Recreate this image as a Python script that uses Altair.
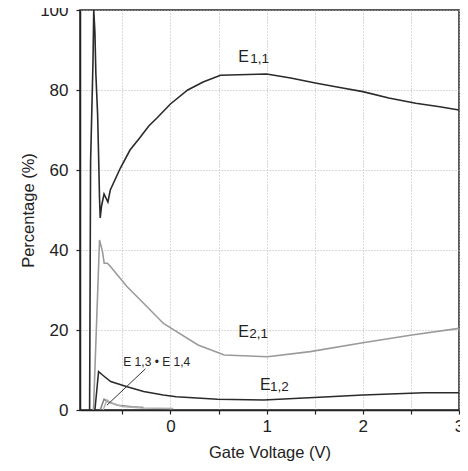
import altair as alt
import pandas as pd

# ---- data ----
e11_x = [-0.84, -0.83, -0.805, -0.797, -0.785, -0.775, -0.757, -0.747, -0.737, -0.73,
         -0.716, -0.69, -0.65, -0.625, -0.52, -0.42, -0.32, -0.225, -0.14, 0.0,
         0.18, 0.34, 0.52, 1.0, 1.25, 1.52, 1.79, 2.0, 2.27, 2.55, 2.8, 3.0]
e11_y = [0, 62, 87, 100, 94.5, 84, 74, 64, 53, 48,
         51, 54, 52, 55, 60.5, 65, 68, 71, 73, 76.5,
         80, 82, 83.7, 84, 83, 81.7, 80.5, 79.6, 78, 76.7, 75.8, 75]

e21_x = [-0.80, -0.737, -0.706, -0.689, -0.655, -0.621, -0.45, -0.279, -0.075, 0.01,
         0.287, 0.56, 1.01, 1.453, 2.0, 2.51, 3.0]
e21_y = [0, 42.5, 39.6, 36.7, 36.7, 35.8, 30.8, 26.7, 21.7, 20.4,
         16.25, 13.75, 13.3, 14.6, 16.8, 18.75, 20.4]

e12_x = [-0.785, -0.747, -0.706, -0.621, -0.45, -0.279, -0.075, 0.06, 0.49, 0.97,
         1.65, 2.0, 2.64, 3.0]
e12_y = [0, 9.6, 8.75, 7.1, 5.8, 4.6, 3.75, 3.3, 2.7, 2.5,
         3.3, 3.75, 4.3, 4.3]

e13_x = [-0.73, -0.69, -0.66, -0.55, -0.4, -0.28]
e13_y = [0, 2.7, 2.2, 1.2, 0.8, 0.6]

e14_x = [-0.70, -0.66, -0.62, -0.5, -0.3, 0.03]
e14_y = [0, 2.5, 1.8, 0.9, 0.5, 0.4]

series_names = ["E11", "E21", "E12", "E13", "E14"]
series_colors = ["#2a2a2a", "#9a9a9a", "#2a2a2a", "#808080", "#b0b0b0"]
series_widths = [1.6, 1.5, 2.2, 1.3, 1.3]

x_ticks = [-0.5, 0, 0.5, 1, 1.5, 2, 2.5, 3]
y_ticks = [0, 10, 20, 30, 40, 50, 60, 70, 80, 90, 100]

lab_text = ["E", "1,1", "E", "2,1", "E", "1,2", "E 1,3 \u2022 E 1,4"]
lab_x = [0.706, 0.83, 0.706, 0.82, 0.93, 1.034, -0.49]
lab_y = [88.3, 87.8, 19.6, 19.1, 6.3, 5.8, 12.0]
lab_size = [16, 13.5, 16, 13.5, 16, 13.5, 12]

ptr_x = [-0.26]
ptr_y = [10.3]
ptr_x2 = [-0.66]
ptr_y2 = [1.2]

# ---- tables ----
rows = []
for name, xs, ys in zip(series_names, [e11_x, e21_x, e12_x, e13_x, e14_x],
                        [e11_y, e21_y, e12_y, e13_y, e14_y]):
    for i, (a, b) in enumerate(zip(xs, ys)):
        rows.append({"series": name, "v": a, "p": b, "i": i})
df = pd.DataFrame(rows)

labels = pd.DataFrame({"t": lab_text, "v": lab_x, "p": lab_y, "s": lab_size})
ptr = pd.DataFrame({"v": ptr_x, "p": ptr_y, "v2": ptr_x2, "p2": ptr_y2})

FONT = "Liberation Sans"
xscale = alt.Scale(domain=[-0.94, 3.0], nice=False, zero=False)
yscale = alt.Scale(domain=[0, 100], nice=False)

xaxis = alt.Axis(values=x_ticks, title="Gate Voltage (V)",
                 labelExpr="datum.value % 1 == 0 ? '' + datum.value : ''",
                 grid=True, gridDash=[1, 2], gridColor="#b5b5b5", gridWidth=1,
                 domainColor="#222222", domainWidth=1.5, tickColor="#222222",
                 tickSize=4, tickWidth=1.2, labelFont=FONT, labelFontSize=17,
                 labelColor="#222222", labelPadding=4, titleFont=FONT,
                 titleFontSize=16.5, titleFontWeight="normal", titleColor="#222222",
                 titlePadding=10, labelFlush=False, labelOverlap=False)
yaxis = alt.Axis(values=y_ticks, title="Percentage (%)",
                 labelExpr="datum.value % 20 == 0 ? '' + datum.value : ''",
                 grid=True, gridDash=[1, 2], gridColor="#b5b5b5", gridWidth=1,
                 domainColor="#222222", domainWidth=1.5, tickColor="#222222",
                 tickSize=4, tickWidth=1.2, labelFont=FONT, labelFontSize=17,
                 labelColor="#222222", labelPadding=8, titleFont=FONT,
                 titleFontSize=16.5, titleFontWeight="normal", titleColor="#222222",
                 titlePadding=3, labelFlush=False, labelOverlap=False)

lines = alt.Chart(df).mark_line(clip=True).encode(
    x=alt.X("v:Q", scale=xscale, axis=xaxis),
    y=alt.Y("p:Q", scale=yscale, axis=yaxis),
    color=alt.Color("series:N", scale=alt.Scale(domain=series_names, range=series_colors), legend=None),
    strokeWidth=alt.StrokeWidth("series:N", scale=alt.Scale(domain=series_names, range=series_widths), legend=None),
    detail="series:N",
    order="i:Q",
)

text = alt.Chart(labels).mark_text(align="left", baseline="middle", font=FONT, color="#222222").encode(
    x=alt.X("v:Q", scale=xscale),
    y=alt.Y("p:Q", scale=yscale),
    text="t:N",
    size=alt.Size("s:Q", scale=None, legend=None),
)

pointer = alt.Chart(ptr).mark_rule(color="#333333", strokeWidth=1).encode(
    x=alt.X("v:Q", scale=xscale),
    y=alt.Y("p:Q", scale=yscale),
    x2="v2:Q",
    y2="p2:Q",
)

chart = alt.layer(lines, pointer, text).properties(
    width=379, height=400,
    autosize=alt.AutoSizeParams(type="none"),
    padding={"left": 72, "top": 2, "right": 1, "bottom": 52},
    background="white",
).configure_view(stroke="#222222", strokeWidth=1.5)

chart.save("out.html", embed_options={"renderer": "svg", "actions": False})
